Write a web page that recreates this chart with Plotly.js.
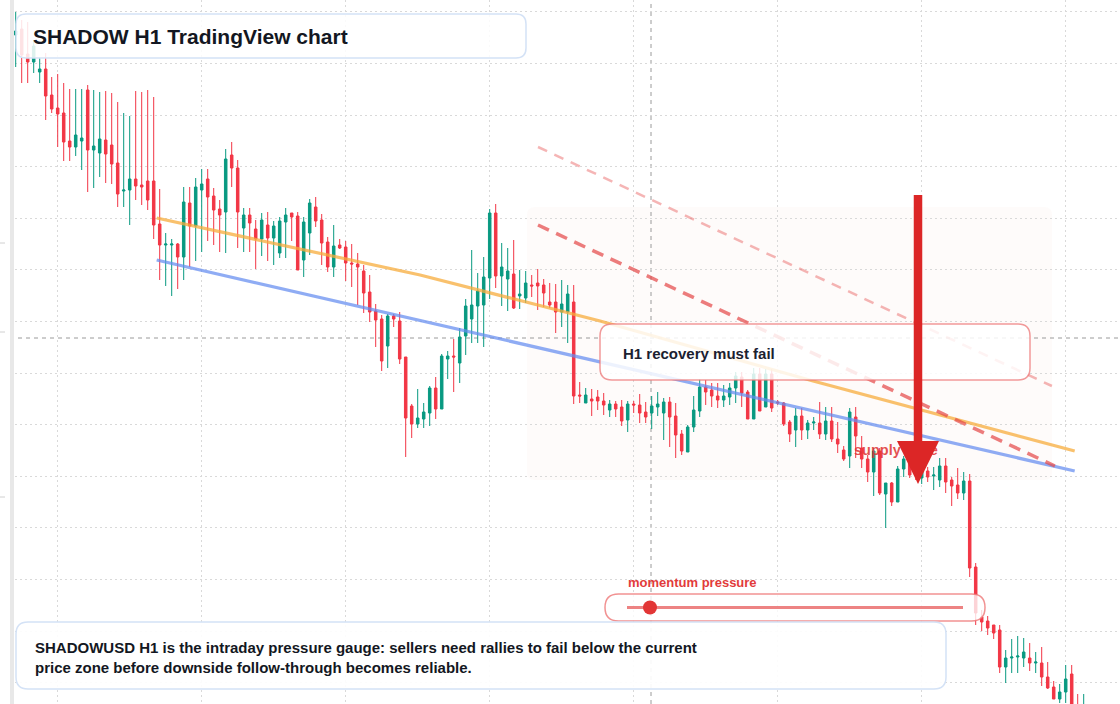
<!DOCTYPE html>
<html>
<head>
<meta charset="utf-8">
<script src="https://cdn.plot.ly/plotly-3.0.1.min.js"></script>
<style>
html,body{margin:0;padding:0;background:#ffffff;}
#chart{width:1120px;height:704px;}
</style>
</head>
<body>
<div id="chart"></div>
<script>
// ---- Data: SHADOWUSD hourly candles (price units) ----
const open = [
765,771,746,738,728,731,705,692,687,659,
653,659,710,650,647,660,655,637,609,610,
621,615,619,619,576,555,555,556,543,597,
574,610,621,604,591,588,645,632,572,585,
571,561,575,562,547,578,587,584,540,567,
593,580,558,533,555,553,537,536,529,508,
489,481,454,484,479,443,394,376,381,387,
412,391,441,444,437,464,481,494,495,522,
587,524,521,526,504,502,515,517,515,498,
498,488,488,498,405,397,401,403,399,390,
396,393,380,396,395,388,387,393,387,398,
384,366,348,373,389,413,410,404,400,403,
412,423,408,381,426,393,426,398,397,378,
370,384,370,377,377,366,379,361,350,344,
383,352,341,328,349,306,317,298,331,341,
333,322,329,324,320,334,320,315,307,319,
233,183,179,175,170,133,142,143,142,142,
137,137,123,113,101,108,126,88,75
];
const high = [
788,780,778,760,743,747,723,726,717,711,
711,711,715,710,708,709,707,698,687,684,
709,708,710,703,611,567,561,557,613,613,
622,631,631,612,600,651,658,640,592,592,
580,587,588,579,583,592,587,588,583,601,
603,586,563,575,561,559,556,547,535,525,
496,485,486,486,488,443,396,411,397,414,
423,446,449,461,472,501,550,527,543,591,
596,557,552,560,530,529,525,531,521,517,
516,520,515,515,418,412,411,410,407,400,
399,400,399,399,406,398,404,408,402,403,
397,370,375,404,421,420,417,417,415,417,
428,428,410,432,432,431,431,400,398,380,
392,392,380,383,398,393,393,378,354,392,
393,364,345,352,352,317,318,334,344,345,
340,342,333,333,342,342,323,332,328,326,
237,190,184,175,175,150,161,164,162,157,
148,153,138,119,116,135,135,106,106
];
const low = [
733,717,717,727,717,680,687,653,639,639,
644,630,608,612,623,617,616,593,593,575,
600,595,590,561,520,514,504,511,520,533,
539,548,559,555,548,547,613,552,548,548,
531,544,539,535,542,542,559,530,523,545,
573,535,528,523,551,519,513,495,487,478,
453,429,432,473,436,343,362,372,372,374,
381,391,421,408,417,445,457,457,453,501,
512,494,489,491,491,497,503,490,493,492,
467,473,457,396,397,397,384,390,385,383,
383,374,368,387,377,377,371,384,360,353,
342,345,348,368,383,395,393,392,393,395,
397,393,381,381,389,393,388,395,374,358,
353,360,361,370,361,360,358,347,339,332,
342,332,318,304,305,272,294,298,323,322,
320,316,318,310,313,307,294,301,300,223,
175,169,165,161,127,117,127,127,133,129,
127,114,111,101,97,97,80,70,65
];
const close = [
769,745,738,754,731,704,691,686,658,653,
665,662,650,654,661,646,636,606,610,621,
614,613,600,575,555,556,556,543,598,574,
613,616,603,590,585,641,632,588,585,577,
561,580,562,574,579,585,583,530,578,597,
579,557,533,554,552,537,536,533,507,488,
480,439,484,481,441,382,376,382,388,412,
391,444,444,443,463,494,495,509,523,587,
524,533,529,492,506,517,514,514,507,495,
488,496,506,404,404,405,399,399,395,396,
391,379,396,395,387,383,394,396,398,383,
365,349,373,390,413,408,404,400,404,412,
424,407,381,426,389,426,392,397,376,366,
384,370,377,378,366,379,361,356,341,388,
364,341,328,349,307,317,298,331,341,325,
325,338,323,325,334,318,314,307,319,232,
187,178,172,167,133,142,143,144,148,137,
138,123,112,101,108,121,88,80,85
];

// Drawn levels: [candle index, price]
const resistanceLine = [[23.5, 582], [67.4, 525], [97.4, 479], [132.9, 419], [176.5, 349]];
const supportLine = [[23.5, 540], [176.5, 329]];
const channelLower = [[87.05, 575], [173.2, 334]];
const channelUpper = [[87.05, 653], [172.7, 414]];

// Texts
const titleText = 'SHADOW H1 TradingView chart';
const calloutText = 'H1 recovery must fail';
const zoneText = 'supply zone';
const gaugeText = 'momentum pressure';
const noteLines = [
  'SHADOWUSD H1 is the intraday pressure gauge: sellers need rallies to fail below the current',
  'price zone before downside follow-through becomes reliable.'
];

// ---- Time axis (hourly bars) ----
const HOUR = 3600000;
const T0 = Date.UTC(2024, 4, 6, 17, 0, 0);
function fmt(ms){ return new Date(ms).toISOString().slice(0,19).replace('T',' '); }
function tAt(k){ return fmt(T0 + Math.round(k*HOUR)); }
function tPath(k){ return tAt(k).replace(' ', '_'); }
const time = open.map((_, k) => tAt(k));

// ---- layout helpers (pixel -> paper) ----
const ML = 10, W = 1120, H = 704, PW = W - ML;
const PX = x => (x - ML) / PW;
const PY = y => 1 - y / H;
function rr(x0, y0, x1, y1, r){
  const a = PX(x0), b = PX(x1), c = PY(y0), d = PY(y1);
  const rx = r / PW, ry = r / H;
  return `M${a+rx},${c} L${b-rx},${c} Q${b},${c} ${b},${c-ry} L${b},${d+ry} Q${b},${d} ${b-rx},${d} ` +
         `L${a+rx},${d} Q${a},${d} ${a},${d+ry} L${a},${c-ry} Q${a},${c} ${a+rx},${c} Z`;
}
function dataPath(pts){
  return pts.map((p, j) => (j ? 'L' : 'M') + tPath(p[0]) + ',' + p[1]).join(' ');
}

const UP = '#089981', DOWN = '#f23645';

const trace = {
  type: 'candlestick',
  x: time, open: open, high: high, low: low, close: close,
  increasing: {line: {color: UP, width: 1}, fillcolor: UP},
  decreasing: {line: {color: DOWN, width: 1}, fillcolor: DOWN},
  whiskerwidth: 0,
  hoverinfo: 'skip',
  showlegend: false
};

const shapes = [
  // supply zone shading
  {type:'path', xref:'paper', yref:'paper', layer:'below', path: rr(527, 207, 1052, 480, 8),
   fillcolor:'rgba(246,214,196,0.09)', line:{width:0}},
  // crosshair
  {type:'line', xref:'paper', yref:'paper', layer:'below', x0:0, x1:1, y0:PY(338), y1:PY(338),
   line:{color:'#9a9a9a', width:1, dash:'4px,4px'}},
  {type:'line', xref:'paper', yref:'paper', layer:'below', x0:PX(651), x1:PX(651), y0:0, y1:1,
   line:{color:'#9a9a9a', width:1, dash:'4px,4px'}},
  // left strip
  {type:'rect', xref:'paper', yref:'paper', layer:'above', x0:0, x1:PX(14), y0:0, y1:1,
   fillcolor:'#e8e8e8', line:{width:0}},
  {type:'line', xref:'paper', yref:'paper', layer:'above', x0:PX(0), x1:PX(5), y0:PY(243), y1:PY(243), line:{color:'#d0d0d0', width:1}},
  {type:'line', xref:'paper', yref:'paper', layer:'above', x0:PX(0), x1:PX(5), y0:PY(332), y1:PY(332), line:{color:'#d0d0d0', width:1}},
  {type:'line', xref:'paper', yref:'paper', layer:'above', x0:PX(0), x1:PX(5), y0:PY(497), y1:PY(497), line:{color:'#d0d0d0', width:1}},
  // trend lines
  {type:'path', xref:'x', yref:'y', layer:'above', path: dataPath(resistanceLine),
   line:{color:'rgba(247,172,60,0.75)', width:3.2}},
  {type:'path', xref:'x', yref:'y', layer:'above', path: dataPath(supportLine),
   line:{color:'rgba(100,140,240,0.72)', width:3.2}},
  {type:'path', xref:'x', yref:'y', layer:'above', path: dataPath(channelLower),
   line:{color:'rgba(228,70,70,0.7)', width:3.5, dash:'12px,8px'}},
  {type:'path', xref:'x', yref:'y', layer:'above', path: dataPath(channelUpper),
   line:{color:'rgba(232,90,90,0.45)', width:2.5, dash:'10px,8px'}},
  // title box
  {type:'path', xref:'paper', yref:'paper', layer:'above', path: rr(16, 14, 526, 58, 10),
   fillcolor:'rgba(255,255,255,0.86)', line:{color:'#d4e2f6', width:1.5}},
  // callout box
  {type:'path', xref:'paper', yref:'paper', layer:'above', path: rr(600, 324, 1030, 380, 12),
   fillcolor:'rgba(255,255,255,0.84)', line:{color:'rgba(236,120,120,0.75)', width:1.5}},
  // momentum pill
  {type:'path', xref:'paper', yref:'paper', layer:'above', path: rr(605, 594, 985, 621, 13.5),
   fillcolor:'rgba(255,255,255,0.78)', line:{color:'rgba(236,110,110,0.75)', width:1.5}},
  {type:'line', xref:'paper', yref:'paper', layer:'above', x0:PX(627), x1:PX(963), y0:PY(607.5), y1:PY(607.5),
   line:{color:'rgba(232,96,96,0.78)', width:3}},
  {type:'circle', xref:'paper', yref:'paper', layer:'above', x0:PX(643), x1:PX(657), y0:PY(614.5), y1:PY(600.5),
   fillcolor:'#e23636', line:{width:0}},
  // note box
  {type:'path', xref:'paper', yref:'paper', layer:'above', path: rr(16, 622, 946, 689, 12),
   fillcolor:'rgba(255,255,255,0.92)', line:{color:'#d4e2f6', width:1.5}},
  // supply zone label
  {type:'rect', xref:'paper', yref:'paper', layer:'above', x0:PX(851), x1:PX(945), y0:PY(456), y1:PY(440),
   fillcolor:'rgba(0,0,0,0)', line:{width:0},
   label:{text: '<b>' + zoneText + '</b>', textposition:'middle left', padding:0,
          font:{family:'Liberation Sans, Arial, sans-serif', size:14.5, color:'rgba(222,50,50,0.85)'}}},
  // big arrow
  {type:'line', xref:'paper', yref:'paper', layer:'above', x0:PX(918), x1:PX(918), y0:PY(195), y1:PY(446),
   line:{color:'#dc2626', width:8.5}},
  {type:'path', xref:'paper', yref:'paper', layer:'above',
   path:`M${PX(897)},${PY(441)} L${PX(939)},${PY(441)} L${PX(918)},${PY(484)} Z`,
   fillcolor:'#dc2626', line:{width:0}}
];

const FONT = 'Liberation Sans, Arial, Helvetica, sans-serif';
const annotations = [
  {xref:'paper', yref:'paper', x:PX(31), y:PY(36), xanchor:'left', yanchor:'middle', showarrow:false,
   text:'<b>' + titleText + '</b>', font:{family:FONT, size:21, color:'#131722'}},
  {xref:'paper', yref:'paper', x:PX(621), y:PY(353), xanchor:'left', yanchor:'middle', showarrow:false,
   text:'<b>' + calloutText + '</b>', font:{family:FONT, size:15, color:'#1b2130'}},
  {xref:'paper', yref:'paper', x:PX(626), y:PY(582), xanchor:'left', yanchor:'middle', showarrow:false,
   text:'<b>' + gaugeText + '</b>', font:{family:FONT, size:13, color:'#e23b3b'}},
  {xref:'paper', yref:'paper', x:PX(33), y:PY(657), xanchor:'left', yanchor:'middle', align:'left', showarrow:false,
   text: noteLines.map(s => '<b>' + s + '</b>').join('<br>'), font:{family:FONT, size:15, color:'#131722'}}
];

const layout = {
  width: W, height: H,
  margin: {l: ML, r: 0, t: 0, b: 0, pad: 0},
  paper_bgcolor: '#ffffff',
  plot_bgcolor: 'rgba(0,0,0,0)',
  font: {family: FONT},
  showlegend: false,
  hovermode: false,
  boxgap: 0.4,
  xaxis: {
    type: 'date',
    range: [fmt(T0 - 0.95*HOUR), fmt(T0 + 184.05*HOUR)],
    rangeslider: {visible: false},
    showgrid: true, gridcolor: '#d9d9d9', griddash: '2px,3px', gridwidth: 1,
    tick0: tAt(7), dtick: 24*HOUR,
    showticklabels: false, ticks: '', zeroline: false, showline: false, fixedrange: true
  },
  yaxis: {
    range: [96, 800],
    showgrid: true, gridcolor: '#d9d9d9', griddash: '2px,3px', gridwidth: 1,
    tick0: 117.4, dtick: 51.6,
    showticklabels: false, ticks: '', zeroline: false, showline: false, fixedrange: true
  },
  shapes: shapes,
  annotations: annotations
};

Plotly.newPlot('chart', [trace], layout, {displayModeBar: false, staticPlot: true});
</script>
</body>
</html>
